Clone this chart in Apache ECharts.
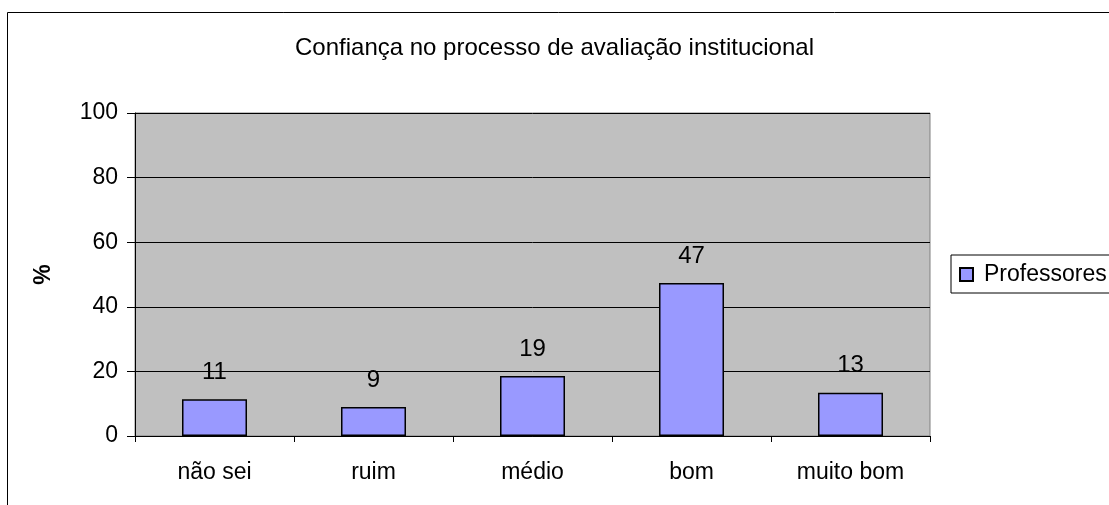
<!DOCTYPE html>
<html>
<head>
<meta charset="utf-8">
<script src="https://cdn.jsdelivr.net/npm/echarts@6/dist/echarts.min.js"></script>
<style>
  html, body { margin: 0; padding: 0; background: #fff; }
  #chart { width: 1109px; height: 505px; }
</style>
</head>
<body>
<div id="chart"></div>
<script>
const categories = ['não sei', 'ruim', 'médio', 'bom', 'muito bom']
const professores = [11.4, 9, 18.6, 47.4, 13.4]
const yTicks = [0, 20, 40, 60, 80, 100]

const font = '"Liberation Sans", Arial, sans-serif'
const myChart = echarts.init(document.getElementById('chart'))

myChart.setOption({
  animation: false,
  backgroundColor: '#fff',
  textStyle: { fontFamily: font, color: '#000' },
  title: {
    text: 'Confiança no processo de avaliação institucional',
    left: 'center',
    top: 31,
    textStyle: { fontFamily: font, fontSize: 24, fontWeight: 'normal', color: '#000' }
  },
  graphic: [
    {
      type: 'rect',
      shape: { x: 7.5, y: 12.5, width: 1200, height: 600 },
      style: { fill: 'none', stroke: '#000', lineWidth: 1 },
      silent: true
    }
  ],
  legend: {
    data: [{ name: 'Professores', icon: 'rect' }],
    left: 951,
    top: 255,
    orient: 'vertical',
    backgroundColor: '#fff',
    borderColor: '#000',
    borderWidth: 1,
    padding: [8, 20, 7, 8],
    itemWidth: 13,
    itemHeight: 13,
    textStyle: { fontFamily: font, fontSize: 23, color: '#000', padding: [0, 0, 0, 6] }
  },
  grid: {
    left: 135,
    right: 179,
    top: 113,
    bottom: 69,
    show: true,
    backgroundColor: '#c0c0c0',
    borderColor: '#808080',
    borderWidth: 1
  },
  xAxis: {
    type: 'category',
    data: categories,
    axisLine: { lineStyle: { color: '#000', width: 1 } },
    axisTick: { show: true, length: 6, alignWithLabel: false, lineStyle: { color: '#000' } },
    axisLabel: { margin: 25, fontSize: 23, color: '#000', fontFamily: font }
  },
  yAxis: {
    type: 'value',
    min: yTicks[0],
    max: yTicks[yTicks.length - 1],
    interval: 20,
    name: '%',
    nameLocation: 'middle',
    nameGap: 80,
    nameRotate: 90,
    nameTextStyle: { fontSize: 23, fontWeight: 'bold', color: '#000', fontFamily: font },
    axisLine: { show: true, lineStyle: { color: '#000', width: 1 } },
    axisTick: { show: true, length: 8, lineStyle: { color: '#000' } },
    axisLabel: { margin: 17, fontSize: 23, color: '#000', fontFamily: font },
    splitLine: { show: true, lineStyle: { color: '#000', width: 1 } }
  },
  series: [
    {
      name: 'Professores',
      type: 'bar',
      data: professores,
      barWidth: 65,
      itemStyle: { color: '#9999ff', borderColor: '#000', borderWidth: 1.5 },
      label: {
        show: true,
        position: 'top',
        distance: 15,
        fontSize: 24,
        color: '#000',
        fontFamily: font,
        formatter: p => Math.round(p.value)
      }
    }
  ]
})
</script>
</body>
</html>
